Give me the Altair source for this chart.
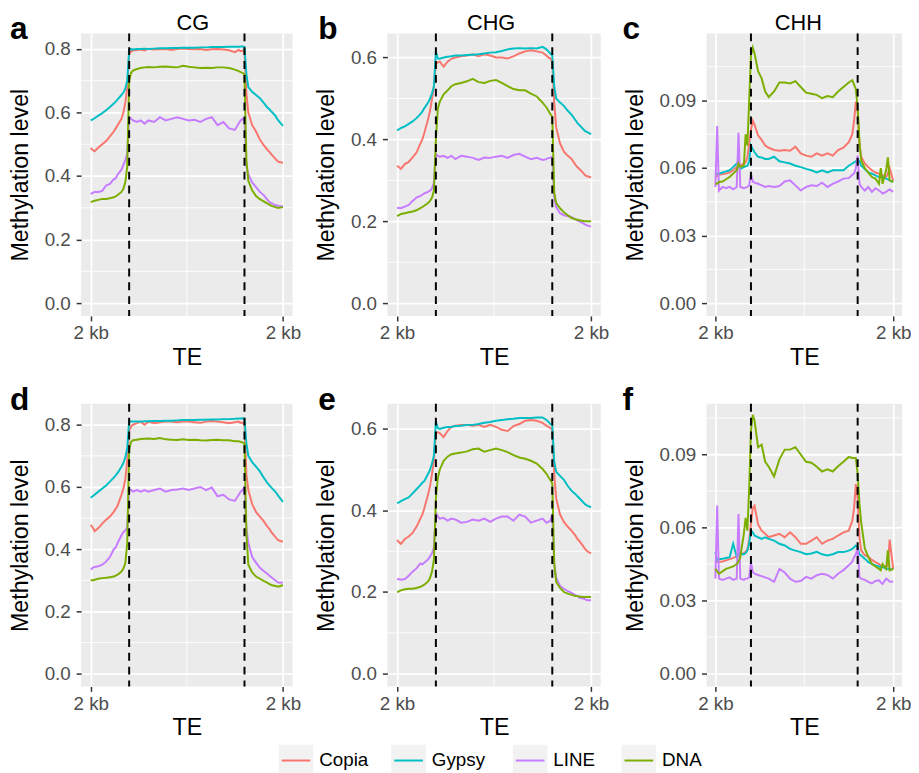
import altair as alt
import pandas as pd

FONT = "Liberation Sans"

X = [0, 1, 2, 4, 6, 8, 10, 12, 13, 14, 16, 17, 18, 19,
     20, 21, 22, 24, 26, 28, 30, 33, 36, 39, 42, 45, 48, 51, 54, 57, 60, 63, 66, 69, 72, 75, 77, 78, 79, 80,
     81, 82, 84, 86, 88, 90, 92, 93, 94, 96, 97, 98, 100]

SERIES = ["Copia", "Gypsy", "LINE", "DNA"]
COLORS = ["#F8766D", "#00BFC4", "#C77CFF", "#7CAE00"]
BOUNDARIES = [20, 80]
X_TICKS = [0, 100]
X_MINOR = [50]

# ---- panel a : CG ----
A_COPIA = [0.488, 0.482, 0.478, 0.490, 0.500, 0.510, 0.525, 0.540, 0.550, 0.560, 0.580, 0.600, 0.630, 0.680,
           0.785, 0.792, 0.795, 0.797, 0.798, 0.795, 0.800, 0.798, 0.799, 0.800, 0.797, 0.800, 0.801, 0.800, 0.799, 0.800, 0.797, 0.799, 0.800, 0.798, 0.796, 0.790, 0.797, 0.793, 0.795, 0.790,
           0.660, 0.600, 0.560, 0.540, 0.515, 0.497, 0.482, 0.476, 0.468, 0.455, 0.448, 0.444, 0.442]
A_GYPSY = [0.575, 0.578, 0.582, 0.590, 0.598, 0.607, 0.617, 0.628, 0.634, 0.641, 0.655, 0.663, 0.675, 0.700,
           0.795, 0.800, 0.798, 0.800, 0.800, 0.801, 0.800, 0.801, 0.802, 0.802, 0.803, 0.803, 0.804, 0.804, 0.804, 0.805, 0.805, 0.806, 0.806, 0.806, 0.807, 0.807, 0.807, 0.808, 0.808, 0.806,
           0.720, 0.680, 0.665, 0.655, 0.645, 0.630, 0.615, 0.610, 0.603, 0.590, 0.580, 0.572, 0.558]
A_LINE = [0.343, 0.347, 0.350, 0.350, 0.353, 0.370, 0.375, 0.390, 0.392, 0.405, 0.420, 0.435, 0.450, 0.470,
          0.585, 0.580, 0.575, 0.570, 0.575, 0.565, 0.575, 0.570, 0.585, 0.575, 0.580, 0.585, 0.580, 0.575, 0.577, 0.570, 0.580, 0.585, 0.560, 0.570, 0.550, 0.545, 0.565, 0.575, 0.580, 0.575,
          0.430, 0.405, 0.380, 0.365, 0.350, 0.340, 0.325, 0.318, 0.315, 0.308, 0.307, 0.306, 0.305]
A_DNA = [0.318, 0.320, 0.322, 0.325, 0.328, 0.328, 0.330, 0.333, 0.336, 0.340, 0.350, 0.360, 0.380, 0.430,
         0.700, 0.725, 0.732, 0.737, 0.740, 0.742, 0.743, 0.742, 0.744, 0.745, 0.743, 0.742, 0.747, 0.744, 0.742, 0.740, 0.741, 0.740, 0.742, 0.742, 0.740, 0.735, 0.730, 0.727, 0.725, 0.720,
         0.450, 0.385, 0.355, 0.337, 0.327, 0.320, 0.313, 0.310, 0.306, 0.302, 0.300, 0.300, 0.302]

# ---- panel b : CHG ----
B_COPIA = [0.336, 0.332, 0.328, 0.340, 0.345, 0.356, 0.368, 0.390, 0.400, 0.415, 0.450, 0.470, 0.500, 0.530,
           0.585, 0.588, 0.590, 0.578, 0.590, 0.597, 0.600, 0.603, 0.605, 0.608, 0.603, 0.608, 0.605, 0.600, 0.600, 0.598, 0.603, 0.610, 0.615, 0.618, 0.615, 0.612, 0.605, 0.600, 0.598, 0.590,
           0.490, 0.430, 0.390, 0.370, 0.360, 0.352, 0.338, 0.332, 0.328, 0.318, 0.312, 0.310, 0.307]
B_GYPSY = [0.422, 0.425, 0.428, 0.432, 0.438, 0.444, 0.452, 0.462, 0.468, 0.476, 0.490, 0.500, 0.512, 0.530,
           0.615, 0.598, 0.597, 0.600, 0.602, 0.603, 0.605, 0.605, 0.606, 0.607, 0.608, 0.610, 0.612, 0.613, 0.616, 0.620, 0.622, 0.623, 0.622, 0.623, 0.622, 0.626, 0.620, 0.615, 0.610, 0.605,
           0.530, 0.500, 0.490, 0.482, 0.470, 0.460, 0.447, 0.440, 0.435, 0.425, 0.420, 0.418, 0.413]
B_LINE = [0.232, 0.233, 0.232, 0.236, 0.240, 0.250, 0.258, 0.262, 0.265, 0.268, 0.272, 0.275, 0.280, 0.295,
          0.365, 0.360, 0.358, 0.360, 0.355, 0.360, 0.352, 0.360, 0.358, 0.355, 0.350, 0.356, 0.355, 0.358, 0.360, 0.355, 0.362, 0.365, 0.358, 0.352, 0.355, 0.350, 0.352, 0.355, 0.355, 0.358,
          0.260, 0.235, 0.220, 0.215, 0.213, 0.210, 0.205, 0.202, 0.200, 0.195, 0.192, 0.190, 0.187]
B_DNA = [0.213, 0.215, 0.218, 0.220, 0.222, 0.224, 0.227, 0.232, 0.235, 0.238, 0.245, 0.250, 0.258, 0.275,
         0.400, 0.475, 0.492, 0.510, 0.520, 0.530, 0.535, 0.538, 0.542, 0.548, 0.540, 0.538, 0.543, 0.545, 0.538, 0.530, 0.523, 0.520, 0.520, 0.512, 0.505, 0.490, 0.478, 0.470, 0.462, 0.455,
         0.270, 0.245, 0.232, 0.222, 0.215, 0.208, 0.205, 0.204, 0.203, 0.201, 0.200, 0.200, 0.200]

# ---- panel c : CHH ----
C_COPIA = [0.0560, 0.0565, 0.0570, 0.0573, 0.0575, 0.0580, 0.0590, 0.0604, 0.0610, 0.0612, 0.0620, 0.0625, 0.0650, 0.0706,
           0.0770, 0.0810, 0.0793, 0.0745, 0.0725, 0.0700, 0.0690, 0.0680, 0.0677, 0.0680, 0.0677, 0.0695, 0.0665, 0.0655, 0.0650, 0.0665, 0.0655, 0.0665, 0.0655, 0.0680, 0.0690, 0.0715, 0.0750, 0.0810, 0.0895, 0.0850,
           0.0706, 0.0650, 0.0620, 0.0604, 0.0590, 0.0580, 0.0575, 0.0570, 0.0567, 0.0560, 0.0575, 0.0600, 0.0545]
C_GYPSY = [0.0575, 0.0575, 0.0575, 0.0580, 0.0585, 0.0590, 0.0604, 0.0620, 0.0610, 0.0596, 0.0604, 0.0607, 0.0610, 0.0630,
           0.0700, 0.0684, 0.0670, 0.0650, 0.0647, 0.0640, 0.0640, 0.0650, 0.0630, 0.0625, 0.0620, 0.0610, 0.0604, 0.0596, 0.0590, 0.0580, 0.0590, 0.0580, 0.0590, 0.0590, 0.0590, 0.0610, 0.0620, 0.0625, 0.0630, 0.0640,
           0.0630, 0.0610, 0.0596, 0.0580, 0.0575, 0.0567, 0.0560, 0.0560, 0.0560, 0.0553, 0.0550, 0.0545, 0.0538]
C_LINE = [0.0516, 0.0786, 0.0500, 0.0516, 0.0510, 0.0516, 0.0505, 0.0516, 0.0757, 0.0516, 0.0510, 0.0513, 0.0516, 0.0523,
          0.0575, 0.0540, 0.0535, 0.0530, 0.0523, 0.0516, 0.0520, 0.0516, 0.0520, 0.0540, 0.0545, 0.0523, 0.0500, 0.0516, 0.0523, 0.0520, 0.0535, 0.0516, 0.0530, 0.0540, 0.0553, 0.0555, 0.0570, 0.0575, 0.0600, 0.0655,
          0.0530, 0.0516, 0.0500, 0.0516, 0.0494, 0.0510, 0.0500, 0.0495, 0.0487, 0.0494, 0.0500, 0.0505, 0.0494]
C_DNA = [0.0530, 0.0530, 0.0538, 0.0540, 0.0550, 0.0560, 0.0575, 0.0590, 0.0620, 0.0605, 0.0610, 0.0750, 0.0700, 0.0900,
         0.1100, 0.1135, 0.1110, 0.1030, 0.0998, 0.0940, 0.0915, 0.0940, 0.0980, 0.0980, 0.0976, 0.0986, 0.0960, 0.0935, 0.0930, 0.0925, 0.0910, 0.0920, 0.0915, 0.0940, 0.0960, 0.0980, 0.0990, 0.0970, 0.0950, 0.0870,
         0.0720, 0.0633, 0.0600, 0.0580, 0.0560, 0.0553, 0.0530, 0.0600, 0.0530, 0.0590, 0.0647, 0.0545, 0.0538]

# ---- panel d : CG (second sample) ----
D_COPIA = [0.478, 0.470, 0.458, 0.468, 0.482, 0.495, 0.505, 0.520, 0.530, 0.540, 0.575, 0.595, 0.625, 0.685,
           0.780, 0.795, 0.800, 0.805, 0.810, 0.800, 0.810, 0.805, 0.808, 0.810, 0.810, 0.808, 0.810, 0.810, 0.808, 0.806, 0.810, 0.812, 0.810, 0.808, 0.805, 0.808, 0.810, 0.806, 0.807, 0.800,
           0.640, 0.590, 0.545, 0.520, 0.505, 0.490, 0.472, 0.465, 0.455, 0.440, 0.432, 0.428, 0.424]
D_GYPSY = [0.565, 0.570, 0.575, 0.585, 0.595, 0.605, 0.617, 0.630, 0.637, 0.645, 0.665, 0.677, 0.695, 0.725,
           0.812, 0.810, 0.810, 0.810, 0.810, 0.811, 0.811, 0.812, 0.812, 0.813, 0.813, 0.814, 0.815, 0.815, 0.815, 0.816, 0.816, 0.817, 0.817, 0.818, 0.818, 0.819, 0.820, 0.820, 0.821, 0.820,
           0.740, 0.700, 0.680, 0.665, 0.650, 0.630, 0.612, 0.605, 0.598, 0.585, 0.577, 0.568, 0.552]
D_LINE = [0.335, 0.340, 0.343, 0.345, 0.350, 0.360, 0.375, 0.400, 0.405, 0.420, 0.445, 0.455, 0.460, 0.470,
          0.590, 0.590, 0.585, 0.590, 0.585, 0.590, 0.585, 0.590, 0.595, 0.585, 0.590, 0.592, 0.595, 0.590, 0.595, 0.600, 0.590, 0.598, 0.570, 0.575, 0.560, 0.555, 0.575, 0.585, 0.590, 0.600,
          0.465, 0.420, 0.375, 0.357, 0.340, 0.330, 0.320, 0.315, 0.310, 0.300, 0.295, 0.292, 0.293]
D_DNA = [0.300, 0.300, 0.302, 0.305, 0.307, 0.308, 0.310, 0.312, 0.315, 0.318, 0.328, 0.338, 0.355, 0.420,
         0.720, 0.745, 0.750, 0.752, 0.754, 0.755, 0.756, 0.754, 0.757, 0.753, 0.752, 0.751, 0.753, 0.751, 0.752, 0.750, 0.749, 0.751, 0.752, 0.750, 0.750, 0.747, 0.747, 0.745, 0.743, 0.740,
         0.450, 0.350, 0.325, 0.312, 0.305, 0.298, 0.292, 0.288, 0.285, 0.282, 0.280, 0.280, 0.285]

# ---- panel e : CHG (second sample) ----
E_COPIA = [0.328, 0.322, 0.318, 0.330, 0.336, 0.345, 0.360, 0.380, 0.390, 0.405, 0.440, 0.460, 0.490, 0.525,
           0.590, 0.592, 0.590, 0.580, 0.595, 0.605, 0.608, 0.610, 0.610, 0.608, 0.610, 0.605, 0.610, 0.605, 0.598, 0.595, 0.607, 0.612, 0.620, 0.622, 0.620, 0.615, 0.608, 0.605, 0.603, 0.598,
           0.490, 0.430, 0.390, 0.372, 0.360, 0.350, 0.338, 0.330, 0.325, 0.312, 0.305, 0.300, 0.295]
E_GYPSY = [0.418, 0.420, 0.423, 0.428, 0.432, 0.442, 0.452, 0.462, 0.468, 0.472, 0.490, 0.500, 0.515, 0.535,
           0.618, 0.602, 0.600, 0.603, 0.605, 0.605, 0.607, 0.608, 0.610, 0.610, 0.612, 0.615, 0.617, 0.620, 0.622, 0.624, 0.625, 0.627, 0.627, 0.627, 0.628, 0.628, 0.622, 0.618, 0.612, 0.610,
           0.520, 0.495, 0.485, 0.475, 0.460, 0.448, 0.440, 0.435, 0.430, 0.420, 0.415, 0.412, 0.408]
E_LINE = [0.231, 0.232, 0.230, 0.232, 0.240, 0.250, 0.258, 0.270, 0.268, 0.272, 0.280, 0.288, 0.295, 0.310,
          0.395, 0.385, 0.380, 0.382, 0.375, 0.380, 0.378, 0.370, 0.372, 0.378, 0.375, 0.380, 0.372, 0.380, 0.385, 0.385, 0.375, 0.390, 0.385, 0.370, 0.375, 0.380, 0.370, 0.372, 0.375, 0.390,
          0.270, 0.235, 0.215, 0.208, 0.202, 0.198, 0.192, 0.190, 0.186, 0.184, 0.182, 0.180, 0.180]
E_DNA = [0.200, 0.202, 0.204, 0.207, 0.208, 0.208, 0.210, 0.213, 0.215, 0.218, 0.226, 0.235, 0.250, 0.280,
         0.430, 0.480, 0.500, 0.522, 0.532, 0.538, 0.540, 0.542, 0.545, 0.550, 0.552, 0.544, 0.548, 0.552, 0.548, 0.543, 0.536, 0.530, 0.527, 0.522, 0.515, 0.502, 0.490, 0.482, 0.475, 0.467,
         0.270, 0.225, 0.210, 0.200, 0.196, 0.193, 0.190, 0.190, 0.189, 0.188, 0.188, 0.188, 0.188]

# ---- panel f : CHH (second sample) ----
F_COPIA = [0.0458, 0.0460, 0.0458, 0.0460, 0.0465, 0.0470, 0.0475, 0.0480, 0.0485, 0.0490, 0.0495, 0.0500, 0.0510, 0.0550,
           0.0614, 0.0680, 0.0690, 0.0614, 0.0587, 0.0574, 0.0560, 0.0567, 0.0574, 0.0560, 0.0580, 0.0560, 0.0533, 0.0533, 0.0546, 0.0560, 0.0533, 0.0546, 0.0553, 0.0567, 0.0580, 0.0587, 0.0628, 0.0680, 0.0778, 0.0720,
           0.0560, 0.0506, 0.0486, 0.0480, 0.0467, 0.0458, 0.0450, 0.0444, 0.0442, 0.0438, 0.0445, 0.0550, 0.0430]
F_GYPSY = [0.0500, 0.0465, 0.0470, 0.0472, 0.0475, 0.0478, 0.0533, 0.0480, 0.0490, 0.0490, 0.0490, 0.0495, 0.0505, 0.0533,
           0.0587, 0.0580, 0.0567, 0.0560, 0.0553, 0.0560, 0.0553, 0.0546, 0.0533, 0.0526, 0.0512, 0.0505, 0.0499, 0.0490, 0.0493, 0.0500, 0.0490, 0.0485, 0.0490, 0.0499, 0.0499, 0.0505, 0.0512, 0.0519, 0.0526, 0.0519,
           0.0490, 0.0485, 0.0472, 0.0458, 0.0451, 0.0444, 0.0440, 0.0438, 0.0438, 0.0431, 0.0431, 0.0431, 0.0427]
F_LINE = [0.0390, 0.0690, 0.0390, 0.0385, 0.0390, 0.0395, 0.0385, 0.0390, 0.0655, 0.0390, 0.0385, 0.0390, 0.0390, 0.0395,
          0.0458, 0.0417, 0.0410, 0.0405, 0.0400, 0.0395, 0.0390, 0.0377, 0.0430, 0.0415, 0.0390, 0.0377, 0.0380, 0.0397, 0.0390, 0.0404, 0.0410, 0.0405, 0.0390, 0.0410, 0.0425, 0.0445, 0.0460, 0.0478, 0.0490, 0.0520,
          0.0397, 0.0390, 0.0385, 0.0377, 0.0370, 0.0380, 0.0383, 0.0375, 0.0368, 0.0390, 0.0385, 0.0378, 0.0377]
F_DNA = [0.0430, 0.0420, 0.0410, 0.0420, 0.0430, 0.0435, 0.0440, 0.0450, 0.0460, 0.0478, 0.0574, 0.0640, 0.0587, 0.0760,
         0.1000, 0.1063, 0.1040, 0.0930, 0.0940, 0.0870, 0.0850, 0.0810, 0.0880, 0.0920, 0.0920, 0.0930, 0.0900, 0.0870, 0.0866, 0.0850, 0.0830, 0.0839, 0.0830, 0.0852, 0.0870, 0.0890, 0.0886, 0.0886, 0.0885, 0.0820,
         0.0700, 0.0620, 0.0515, 0.0478, 0.0450, 0.0440, 0.0430, 0.0424, 0.0450, 0.0430, 0.0506, 0.0424, 0.0430]

LONG_TICKS = [0.0, 0.2, 0.4, 0.6, 0.8]
LONG_MINOR = [0.1, 0.3, 0.5, 0.7]
MID_TICKS = [0.0, 0.2, 0.4, 0.6]
MID_MINOR = [0.1, 0.3, 0.5]
CHH_TICKS = [0.0, 0.03, 0.06, 0.09]
CHH_MINOR = [0.015, 0.045, 0.075, 0.105]

PANELS = [
    dict(letter="a", title="CG", values=[A_COPIA, A_GYPSY, A_LINE, A_DNA], dom=[-0.0405, 0.849],
         major=LONG_TICKS, minor=LONG_MINOR, fmt=".1f", width=214, ldx=-72, tdx=6),
    dict(letter="b", title="CHG", values=[B_COPIA, B_GYPSY, B_LINE, B_DNA], dom=[-0.031, 0.659],
         major=MID_TICKS, minor=MID_MINOR, fmt=".1f", width=216, ldx=-70, tdx=-3),
    dict(letter="c", title="CHH", values=[C_COPIA, C_GYPSY, C_LINE, C_DNA], dom=[-0.0057, 0.1198],
         major=CHH_TICKS, minor=CHH_MINOR, fmt=".2f", width=198, ldx=-85, tdx=-6),
    dict(letter="d", title="", values=[D_COPIA, D_GYPSY, D_LINE, D_DNA], dom=[-0.041, 0.867],
         major=LONG_TICKS, minor=LONG_MINOR, fmt=".1f", width=214, ldx=-72, tdx=0),
    dict(letter="e", title="", values=[E_COPIA, E_GYPSY, E_LINE, E_DNA], dom=[-0.0315, 0.6615],
         major=MID_TICKS, minor=MID_MINOR, fmt=".1f", width=216, ldx=-70, tdx=0),
    dict(letter="f", title="", values=[F_COPIA, F_GYPSY, F_LINE, F_DNA], dom=[-0.0053, 0.1108],
         major=CHH_TICKS, minor=CHH_MINOR, fmt=".2f", width=198, ldx=-85, tdx=0),
]

HEIGHT = 286

AXIS_STYLE = dict(domain=False, tickColor="#333333", tickSize=5, tickWidth=1.5,
                  labelColor="#4D4D4D", labelFontSize=19, labelFont=FONT,
                  titleColor="black", titleFontSize=23.5, titleFontWeight="normal", titleFont=FONT,
                  grid=True, gridColor="white", gridWidth=1.8)


def make_panel(p):
    rows = []
    for s, vals in zip(SERIES, p["values"]):
        assert len(vals) == len(X), (p["letter"], s, len(vals))
        for xv, v in zip(X, vals):
            rows.append({"x": xv, "value": v, "series": s})
    df = pd.DataFrame(rows)
    xs = alt.Scale(domain=[-5, 105], nice=False, zero=False)
    ys = alt.Scale(domain=p["dom"], nice=False, zero=False)
    xaxis = alt.Axis(values=X_TICKS, labelExpr="'2 kb'", title="TE", labelPadding=3, titlePadding=3,
                     **AXIS_STYLE)
    yaxis = alt.Axis(values=p["major"], format=p["fmt"], title="Methylation level",
                     labelPadding=6, titlePadding=12, **AXIS_STYLE)

    layers = []
    layers.append(alt.Chart(pd.DataFrame({"v": p["minor"]})).mark_rule(color="white", strokeWidth=0.9)
                  .encode(y=alt.Y("v:Q", scale=ys, axis=yaxis)))
    layers.append(alt.Chart(pd.DataFrame({"v": X_MINOR})).mark_rule(color="white", strokeWidth=0.9)
                  .encode(x=alt.X("v:Q", scale=xs, axis=xaxis)))
    for i, s in enumerate(SERIES):
        layers.append(
            alt.Chart(df).transform_filter(alt.datum.series == s)
            .mark_line(color=COLORS[i], strokeWidth=2)
            .encode(x=alt.X("x:Q", scale=xs, axis=xaxis),
                    y=alt.Y("value:Q", scale=ys, axis=yaxis))
        )
    layers.append(alt.Chart(pd.DataFrame({"b": BOUNDARIES}))
                  .mark_rule(color="black", strokeDash=[8, 6], strokeWidth=2)
                  .encode(x=alt.X("b:Q", scale=xs, axis=xaxis)))
    layers.append(alt.Chart(pd.DataFrame({"t": [p["letter"]]}))
                  .mark_text(align="left", baseline="alphabetic", fontSize=32, fontWeight="bold",
                             font=FONT, color="black")
                  .encode(x=alt.value(p["ldx"]), y=alt.value(6), text="t:N"))
    if p["title"]:
        layers.append(alt.Chart(pd.DataFrame({"t": [p["title"]]}))
                      .mark_text(align="center", baseline="alphabetic", fontSize=22, font=FONT, color="black")
                      .encode(x=alt.value(p["width"] / 2 + p["tdx"]), y=alt.value(-3), text="t:N"))
    return alt.layer(*layers).properties(width=p["width"], height=HEIGHT,
                                         view=alt.ViewBackground(fill="#EBEBEB", stroke=None))


panels = [make_panel(p) for p in PANELS]
row1 = alt.hconcat(*panels[:3], spacing=13)
row2 = alt.hconcat(*panels[3:], spacing=13)

# ---- legend (ggplot style keys), laid out in pixels from the left edge of panel a ----
LEG_W = 700
LEG_START = 200
LEGEND_KEY_X = [0, 114, 237, 347]
leg_df = pd.DataFrame({"label": SERIES, "off": LEGEND_KEY_X})
lx = alt.Scale(domain=[-LEG_START, LEG_W - LEG_START], nice=False, zero=False)
leg_base = alt.Chart(leg_df).transform_calculate(
    k0="datum.off", k1="datum.off + 35", l0="datum.off + 3", l1="datum.off + 32",
    t0="datum.off + 41")
leg_rect = leg_base.mark_rect(fill="#F2F2F2").encode(
    x=alt.X("k0:Q", scale=lx, axis=None), x2="k1:Q", y=alt.value(0), y2=alt.value(30))
leg_line = leg_base.mark_rule(strokeWidth=2).encode(
    x=alt.X("l0:Q", scale=lx, axis=None), x2="l1:Q", y=alt.value(16),
    color=alt.Color("label:N", scale=alt.Scale(domain=SERIES, range=COLORS), legend=None))
leg_text = leg_base.mark_text(align="left", baseline="middle", fontSize=19, font=FONT, color="black").encode(
    x=alt.X("t0:Q", scale=lx, axis=None), y=alt.value(16), text="label:N")
legend = alt.layer(leg_rect, leg_line, leg_text).properties(
    width=LEG_W, height=28, view=alt.ViewBackground(fill="white", stroke=None))

grid = alt.vconcat(row1, row2, spacing=15)
chart = alt.vconcat(grid, legend, spacing=5).properties(
    padding={"left": 0, "top": 0, "right": 0, "bottom": 0}
).configure(font=FONT).configure_view(stroke=None)

chart.save("out.html", embed_options={"renderer": "svg", "actions": False})
